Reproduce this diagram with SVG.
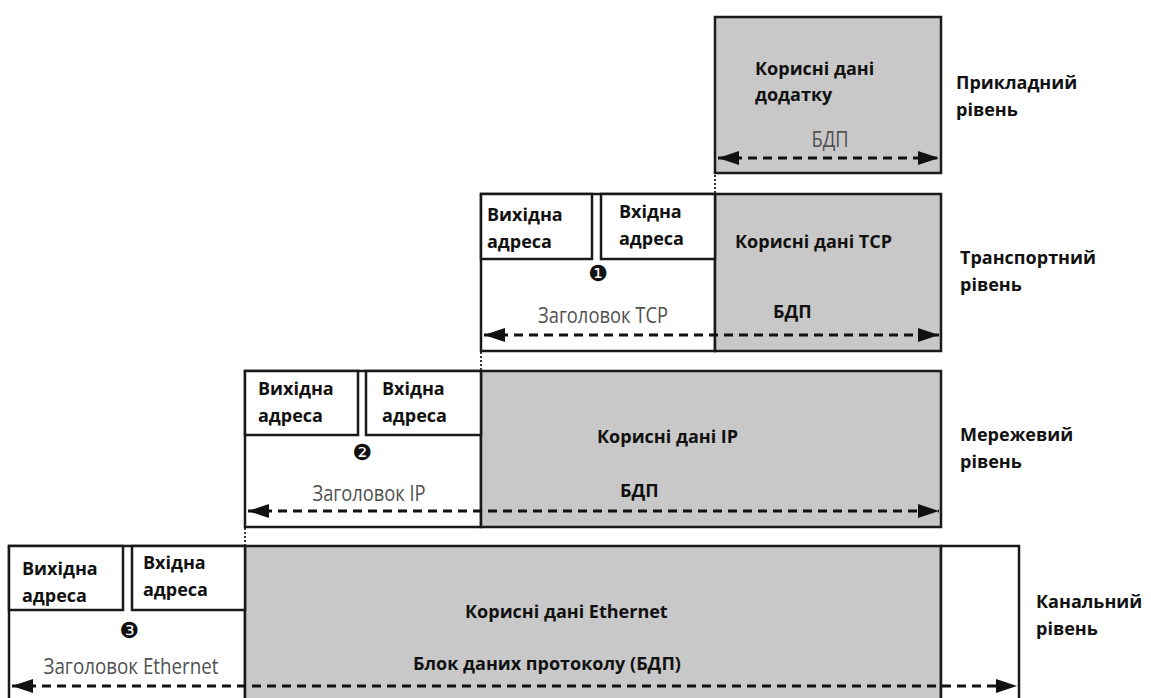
<svg xmlns="http://www.w3.org/2000/svg" width="1151" height="698" viewBox="0 0 1151 698">
<style>
.box{fill:#fff;stroke:#1a1a1a;stroke-width:2.5}
.pay{fill:#c8c8c8;stroke:#1a1a1a;stroke-width:2.5}
.b{font-family:"Open Sans","Liberation Sans",sans-serif;font-weight:700;font-size:18px;fill:#111}
.g{font-family:"Open Sans","Liberation Sans",sans-serif;font-weight:400;font-size:21px;fill:#505050}
.num{font-family:"DejaVu Sans",sans-serif;font-size:22px;fill:#111;text-anchor:middle}
.arr{stroke:#111;stroke-width:3;stroke-dasharray:9 6;fill:none;marker-start:url(#ah);marker-end:url(#ah)}
.dot{stroke:#333;stroke-width:2;stroke-dasharray:2 2}
</style>
<defs>
<marker id="ah" markerUnits="userSpaceOnUse" markerWidth="22" markerHeight="14" refX="21" refY="7" orient="auto-start-reverse">
<path d="M0,0 L21,7 L0,14 Z" fill="#111"/>
</marker>
</defs>
<rect width="1151" height="698" fill="#fff"/>

<g id="application">
<rect class="pay" x="715" y="17" width="226" height="156"/>
<text class="b" x="755" y="75">Корисні дані</text>
<text class="b" x="755" y="101">додатку</text>
<text class="g" x="830" y="147" text-anchor="middle" textLength="37" lengthAdjust="spacingAndGlyphs">БДП</text>
<text class="b" x="956" y="89">Прикладний</text>
<text class="b" x="956" y="116">рівень</text>
</g>

<g id="transport">
<rect class="box" x="481" y="194" width="234" height="157"/>
<rect class="pay" x="715" y="194" width="226" height="157"/>
<rect class="box" x="481" y="194" width="111" height="65"/>
<rect class="box" x="601" y="194" width="114" height="65"/>
<text class="b" x="487" y="221">Вихідна</text>
<text class="b" x="487" y="248">адреса</text>
<text class="b" x="619" y="218">Вхідна</text>
<text class="b" x="619" y="245">адреса</text>
<text class="num" x="598" y="281">❶</text>
<text class="g" x="603" y="323" text-anchor="middle" textLength="130" lengthAdjust="spacingAndGlyphs">Заголовок TCP</text>
<text class="b" x="735" y="248">Корисні дані TCP</text>
<text class="b" x="773" y="318">БДП</text>
<text class="b" x="960" y="264">Транспортний</text>
<text class="b" x="960" y="291">рівень</text>
</g>

<g id="network">
<rect class="box" x="245" y="371" width="236" height="156"/>
<rect class="pay" x="481" y="371" width="460" height="156"/>
<rect class="box" x="245" y="371" width="113" height="64"/>
<rect class="box" x="366" y="371" width="115" height="64"/>
<text class="b" x="258" y="395">Вихідна</text>
<text class="b" x="258" y="422">адреса</text>
<text class="b" x="382" y="395">Вхідна</text>
<text class="b" x="382" y="422">адреса</text>
<text class="num" x="362" y="460">❷</text>
<text class="g" x="369" y="501" text-anchor="middle" textLength="113" lengthAdjust="spacingAndGlyphs">Заголовок IP</text>
<text class="b" x="597" y="443">Корисні дані IP</text>
<text class="b" x="620" y="497">БДП</text>
<text class="b" x="960" y="441">Мережевий</text>
<text class="b" x="960" y="468">рівень</text>
</g>

<g id="link">
<rect class="box" x="9" y="546" width="236" height="156"/>
<rect class="pay" x="245" y="546" width="696" height="156"/>
<rect class="box" x="941" y="546" width="78" height="156"/>
<rect class="box" x="9" y="546" width="114" height="64"/>
<rect class="box" x="132" y="546" width="113" height="64"/>
<text class="b" x="22" y="575">Вихідна</text>
<text class="b" x="22" y="602">адреса</text>
<text class="b" x="143" y="569">Вхідна</text>
<text class="b" x="143" y="596">адреса</text>
<text class="num" x="129" y="638">❸</text>
<text class="g" x="131" y="674" text-anchor="middle" textLength="175" lengthAdjust="spacingAndGlyphs">Заголовок Ethernet</text>
<text class="b" x="465" y="618">Корисні дані Ethernet</text>
<text class="b" x="413" y="670">Блок даних протоколу (БДП)</text>
<text class="b" x="1036" y="608">Канальний</text>
<text class="b" x="1036" y="635">рівень</text>
</g>

<g id="connectors">
<line class="arr" x1="718" y1="158" x2="939" y2="158"/>
<line class="arr" x1="484" y1="335" x2="939" y2="335"/>
<line class="arr" x1="248" y1="511" x2="939" y2="511"/>
<line class="arr" x1="12" y1="686" x2="1017" y2="686"/>
<line class="dot" x1="715" y1="175" x2="715" y2="193"/>
<line class="dot" x1="481" y1="352" x2="481" y2="370"/>
<line class="dot" x1="245" y1="528" x2="245" y2="545"/>
</g>
</svg>
